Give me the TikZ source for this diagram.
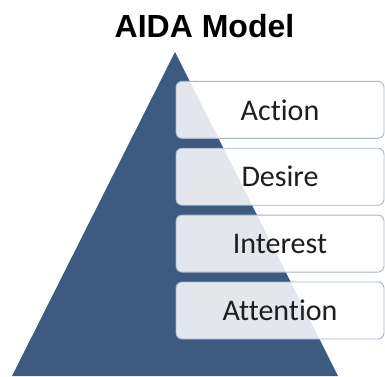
\documentclass[tikz,border=0pt]{standalone}
\usepackage{fontspec}
\setmainfont[Ligatures=NoCommon]{Carlito}
\newfontfamily\titlefont{Liberation Sans}
\usetikzlibrary{positioning}
\definecolor{pyramidblue}{RGB}{61,90,128}
\definecolor{stageline}{RGB}{166,182,202}
\definecolor{stagetext}{RGB}{30,30,30}
\tikzset{
  stage/.style={draw=stageline, line width=0.9pt, fill=white, fill opacity=0.86,
    text opacity=1, text=stagetext, rounded corners=6pt,
    minimum width=208pt, minimum height=57pt, font=\fontsize{30}{34}\selectfont}
}

\begin{document}
\begin{tikzpicture}[x=1pt, y=1pt, node distance=9pt]

        \useasboundingbox (0,0) rectangle (385,376);

        % Title
        \node[anchor=base, font=\titlefont\bfseries\fontsize{32}{36}\selectfont] (title) at (204.5,339) {AIDA Model};

        % Pyramid
        \coordinate (apex) at (175,324);
        \coordinate (baseL) at (12,0);
        \coordinate (baseR) at (338,0);
        \fill[pyramidblue] (apex) -- (baseR) -- (baseL) -- cycle;

        % Attention
        \node[stage] (attention) at (280,65.5) {Attention};

        % Interest
        \node[stage, above=of attention] (interest) {Interest};

        % Desire
        \node[stage, above=of interest] (desire) {Desire};

        % Action
        \node[stage, above=of desire] (action) {Action};

    \end{tikzpicture}
\end{document}
